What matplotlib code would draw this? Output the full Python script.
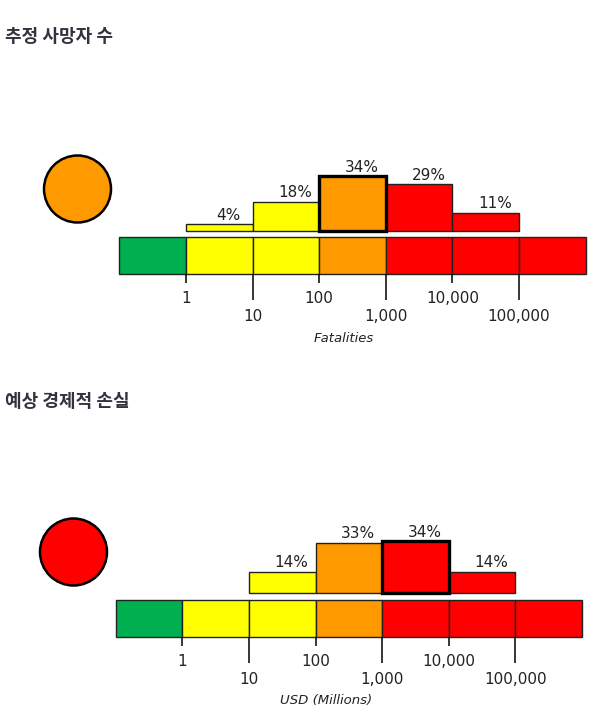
import matplotlib
matplotlib.use("Agg")
import matplotlib.pyplot as plt
from matplotlib.patches import Circle
from matplotlib.ticker import FixedLocator, FixedFormatter

# ---------------- data ----------------
scale_labels = ["1", "10", "100", "1,000", "10,000", "100,000"]
scale_colors = ["#00B050", "#FFFF00", "#FFFF00", "#FF9900", "#FF0000", "#FF0000", "#FF0000"]

fat_title = "추정 사망자 수"
fat_xlabel = "Fatalities"
fat_bins = [1, 2, 3, 4, 5]            # bin index (left edge on scale)
fat_pcts = [4, 18, 34, 29, 11]
fat_highlight = 3
fat_alert = "#FF9900"

eco_title = "예상 경제적 손실"
eco_xlabel = "USD (Millions)"
eco_bins = [2, 3, 4, 5]
eco_pcts = [14, 33, 34, 14]
eco_highlight = 4
eco_alert = "#FF0000"

W, H = 600, 718
plt.rcParams['font.family'] = ['DejaVu Sans']
fig = plt.figure(figsize=(W / 100, H / 100), dpi=100)
TXT = "#222222"


def px_axes(x0, y_top, w, h):
    return fig.add_axes([x0 / W, 1 - (y_top + h) / H, w / W, h / H])


def panel(title, title_y, xlabel, xlabel_x, xlabel_y, bins, pcts, highlight, alert,
          bar_x0, bar_top, hist_base, px_per_pct, circ_c):
    # title
    fig.text(5 / W, 1 - title_y / H, title, ha="left", va="center",
             fontsize=13, fontweight="bold", color="#333340",
             family=["Noto Sans CJK KR", "DejaVu Sans"])
    bw, bh = 466.4, 37.0
    # colour scale bar
    ax = px_axes(bar_x0, bar_top, bw, bh)
    n = len(scale_colors)
    ax.bar(range(n), [1] * n, width=1, align="edge", color=scale_colors,
           edgecolor="#222222", linewidth=1.0, clip_on=False)
    ax.set_xlim(0, n)
    ax.set_ylim(0, 1)
    for s in ax.spines.values():
        s.set_visible(False)
    ax.set_yticks([])
    pos = list(range(1, n))
    major = pos[0::2]
    minor = pos[1::2]
    ax.xaxis.set_major_locator(FixedLocator(major))
    ax.xaxis.set_major_formatter(FixedFormatter(scale_labels[0::2]))
    ax.xaxis.set_minor_locator(FixedLocator(minor))
    ax.xaxis.set_minor_formatter(FixedFormatter(scale_labels[1::2]))
    ax.tick_params(axis="x", which="major", length=6.3, width=1.1, pad=5.8,
                   labelsize=11, colors="black", labelcolor=TXT)
    ax.tick_params(axis="x", which="minor", length=18.7, width=1.1, pad=6.3,
                   labelsize=11, colors="black", labelcolor=TXT)
    ax.set_xlabel(xlabel, fontsize=9.5, style="italic", color=TXT)
    ax.xaxis.set_label_coords(xlabel_x, xlabel_y)

    # histogram
    hh = 90.0
    axh = px_axes(bar_x0, hist_base - hh, bw, hh)
    axh.set_xlim(0, n)
    axh.set_ylim(0, hh / px_per_pct)
    axh.axis("off")
    for b, p in zip(bins, pcts):
        hl = (b == highlight)
        axh.bar(b, p, width=1, align="edge", color=scale_colors[b],
                edgecolor="black" if hl else "#222222",
                linewidth=2.4 if hl else 1.0, zorder=3 if hl else 2,
                clip_on=False)
        axh.annotate(f"{p}%", (b + 0.5, p), xytext=(6.8, 3.4),
                     textcoords="offset points", ha="center", va="baseline",
                     fontsize=11, color=TXT, annotation_clip=False)

    # alert circle
    r = 40
    axc = px_axes(circ_c[0] - r, circ_c[1] - r, 2 * r, 2 * r)
    axc.set_xlim(-r, r)
    axc.set_ylim(-r, r)
    axc.axis("off")
    axc.add_patch(Circle((0, 0), 33.5, facecolor=alert, edgecolor="black",
                         linewidth=1.8))


panel(fat_title, 36.7, fat_xlabel, 0.481, -1.56, fat_bins, fat_pcts, fat_highlight,
      fat_alert, 119.3, 237.3, 230.7, 1.6, (77.5, 189))
panel(eco_title, 401.7, eco_xlabel, 0.452, -1.53, eco_bins, eco_pcts, eco_highlight,
      eco_alert, 115.7, 600.3, 593.3, 1.53, (73.5, 552))

fig.savefig("out.png", dpi=100)
